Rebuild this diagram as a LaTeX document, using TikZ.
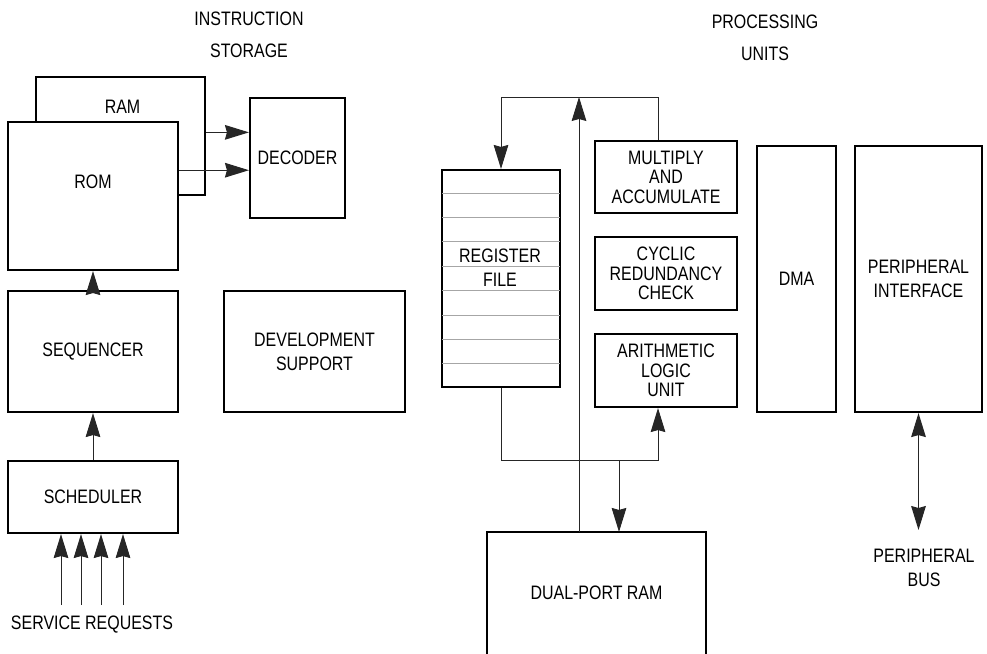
\documentclass[tikz,border=0pt]{standalone}
\usepackage{fontspec}
\setmainfont{Liberation Sans}[FakeStretch=0.82]
\usetikzlibrary{arrows.meta,calc}

\begin{document}
\begin{tikzpicture}[x=0.75pt,y=-0.75pt,
  blk/.style 2 args={draw,line width=1.6pt,inner sep=0pt,
                     minimum width=#1*0.75pt,minimum height=#2*0.75pt,
                     font=\fontsize{14.6pt}{14.6pt}\selectfont,align=center},
  lbl/.style={font=\fontsize{14.6pt}{14.6pt}\selectfont,align=center,inner sep=0pt},
  arr/.style={-{Stealth[length=18pt,width=11pt,inset=1.5pt]},line width=0.75pt,black!85},
  arr2/.style={{Stealth[length=18pt,width=11pt,inset=1.5pt]}-{Stealth[length=18pt,width=11pt,inset=1.5pt]},
               line width=0.75pt,black!85},
  row/.style={line width=0.75pt,gray!70,shorten <=0.8pt,shorten >=0.8pt}
]
  \useasboundingbox (0,0) rectangle (987,653);

  % ---- Instruction storage (left half) ------------------------
  \node[lbl] (istore) at (249,35) {INSTRUCTION\\[9.4pt]STORAGE};

  \node[blk={169}{118}] (ram) at (120.5,136) {};
  \node[lbl] (ramlbl) at (122.5,106.5) {RAM};
  \node[blk={170}{148},fill=white] (rom) at (93,196) {};
  \node[lbl] (romlbl) at (93,181.5) {ROM};
  \node[blk={95}{120}] (dec) at (297.5,158) {DECODER};

  % RAM and ROM feed the decoder
  \coordinate (dec1) at ($(dec.north west)!0.29!(dec.south west)$);
  \coordinate (dec2) at ($(dec.north west)!0.6!(dec.south west)$);
  \draw[arr] (dec1 -| ram.east) -- (dec1);
  \draw[arr] (dec2 -| rom.east) -- (dec2);

  \node[blk={170}{121}] (seq) at (93,351.5) {SEQUENCER};
  \node[blk={170}{72}] (sched) at (93,497) {SCHEDULER};
  \node[blk={181}{121}] (dev) at (314.5,351.5) {DEVELOPMENT\\[3.4pt]SUPPORT};

  \draw[arr] (seq.north) -- (rom.south);
  \draw[arr] (sched.north) -- (seq.south);

  % Service requests into the scheduler
  \node[lbl] (srq) at (92,625) {SERVICE REQUESTS};
  \foreach \x in {61,81,101,123}{
    \coordinate (sr\x) at (\x,605);
    \draw[arr] (sr\x) -- (sr\x |- sched.south);
  }

  % ---- Processing units (right half) --------------------------
  \node[lbl] (punits) at (765,37.5) {PROCESSING\\[9.4pt]UNITS};

  \node[blk={118}{217}] (reg) at (501,278.5) {};
  \foreach \k in {1,...,8}
    \draw[row] ($(reg.north west)!\k/9!(reg.south west)$)
            -- ($(reg.north east)!\k/9!(reg.south east)$);
  \node[lbl] (reglbl) at (500,268) {REGISTER\\[3.4pt]FILE};

  \node[blk={142}{72}] (mac) at (666,177) {MULTIPLY\\AND\\ACCUMULATE};
  \node[blk={142}{73}] (crc) at (666,273.5) {CYCLIC\\REDUNDANCY\\CHECK};
  \node[blk={142}{73}] (alu) at (666,370.5) {ARITHMETIC\\LOGIC\\UNIT};
  \node[blk={79}{266}] (dma) at (796.5,279) {DMA};
  \node[blk={127}{266}] (pif) at (918.5,279) {PERIPHERAL\\[3.4pt]INTERFACE};

  % Dual-port RAM runs off the bottom edge
  \node[blk={217}{120},draw=none] (dpr) at (596.5,593) {DUAL-PORT RAM};
  \draw[line width=1.6pt] (dpr.south west) |- (dpr.north east) -- (dpr.south east);

  % Buses between register file, units and RAM
  \coordinate (ytop) at (0,97);
  \coordinate (ybot) at (0,460);
  \coordinate (bus) at (579,0);
  \coordinate (tap) at (619,460);

  \draw[arr] ([xshift=-6pt]mac.north) |- (reg.north |- ytop) -- (reg.north);
  \draw[arr] (dpr.north -| bus) -- (bus |- ytop);
  \draw[arr] (reg.south) -- (reg.south |- ybot) -| ([xshift=-6pt]alu.south);
  \draw[arr] (tap) -- (tap |- dpr.north);

  % Peripheral bus
  \node[lbl] (pbus) at (924,567.5) {PERIPHERAL\\[3.4pt]BUS};
  \coordinate (pbusend) at (pif.south |- 0,530);
  \draw[arr2] (pif.south) -- (pbusend);

\end{tikzpicture}
\end{document}
